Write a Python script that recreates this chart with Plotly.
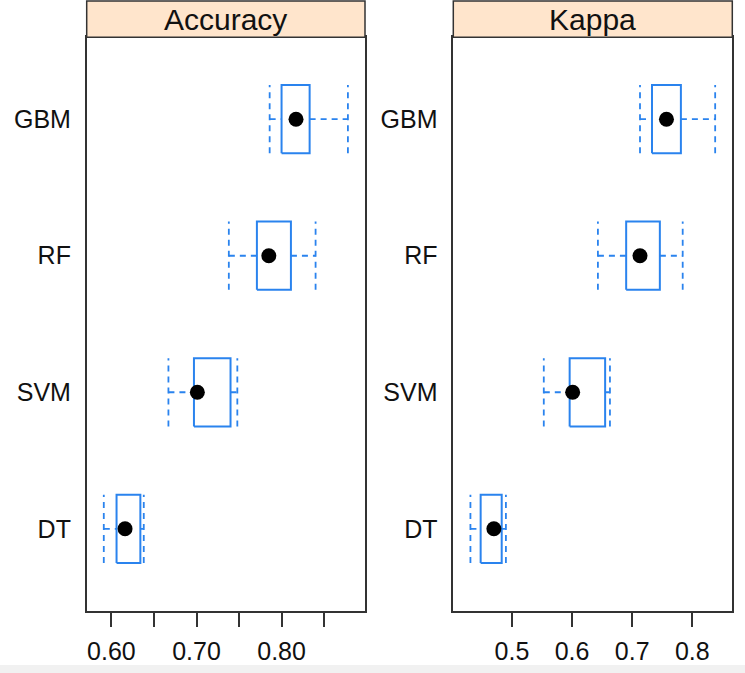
import plotly.graph_objects as go

models = ["DT", "SVM", "RF", "GBM"]

acc_min = [0.591, 0.667, 0.738, 0.786]
acc_q1 = [0.606, 0.697, 0.771, 0.800]
acc_med = [0.616, 0.701, 0.785, 0.817]
acc_q3 = [0.634, 0.740, 0.811, 0.833]
acc_max = [0.638, 0.748, 0.840, 0.878]

kap_min = [0.431, 0.553, 0.643, 0.713]
kap_q1 = [0.448, 0.596, 0.690, 0.733]
kap_med = [0.470, 0.601, 0.713, 0.757]
kap_q3 = [0.483, 0.655, 0.746, 0.781]
kap_max = [0.490, 0.663, 0.784, 0.838]

panels = ["Accuracy", "Kappa"]
acc_ticks = [0.60, 0.65, 0.70, 0.75, 0.80, 0.85]
acc_ticktext = ["0.60", "", "0.70", "", "0.80", ""]
kap_ticks = [0.5, 0.6, 0.7, 0.8]
kap_ticktext = ["0.5", "0.6", "0.7", "0.8"]

BLUE = "#2a83ee"
DARK = "#333333"
FONT = "Liberation Sans, Arial, Helvetica, sans-serif"
W, H = 745, 673

fig = go.Figure()

HALF = 0.25


def add_panel(xa, ya, mn, q1, md, q3, mx):
    for i in range(len(models)):
        c = i + 1
        fig.add_trace(go.Scatter(
            x=[q1[i], q3[i], q3[i], q1[i], q1[i]],
            y=[c - HALF, c - HALF, c + HALF, c + HALF, c - HALF],
            mode="lines", line=dict(color=BLUE, width=2),
            xaxis=xa, yaxis=ya, showlegend=False, hoverinfo="skip"))
        for a, b in ((mn[i], q1[i]), (q3[i], mx[i])):
            fig.add_trace(go.Scatter(
                x=[a, b], y=[c, c], mode="lines",
                line=dict(color=BLUE, width=1.8, dash="6px,5px"),
                xaxis=xa, yaxis=ya, showlegend=False, hoverinfo="skip"))
        for v in (mn[i], mx[i]):
            fig.add_trace(go.Scatter(
                x=[v, v], y=[c - HALF, c + HALF], mode="lines",
                line=dict(color=BLUE, width=1.8, dash="6px,5px"),
                xaxis=xa, yaxis=ya, showlegend=False, hoverinfo="skip"))
    fig.add_trace(go.Scatter(
        x=md, y=[i + 1 for i in range(len(models))], mode="markers",
        marker=dict(color="black", size=15),
        xaxis=xa, yaxis=ya, showlegend=False))


add_panel("x", "y", acc_min, acc_q1, acc_med, acc_q3, acc_max)
add_panel("x2", "y2", kap_min, kap_q1, kap_med, kap_q3, kap_max)


def padded(lo_vals, hi_vals):
    lo, hi = min(lo_vals), max(hi_vals)
    p = 0.07 * (hi - lo)
    return [lo - p, hi + p]


def px(x):
    return x / W


def py(y):
    return (H - y) / H


x1d = [px(86.7), px(365.0)]
x2d = [px(453.3), px(732.3)]
yd = [py(610.7), py(37.3)]

axis_common = dict(
    showline=True, mirror=True, linecolor=DARK, linewidth=1.5,
    showgrid=False, zeroline=False, automargin=False,
    tickfont=dict(family=FONT, size=25, color="#111111"),
)

fig.update_layout(
    width=W, height=H,
    margin=dict(l=0, r=0, t=0, b=0),
    paper_bgcolor="white", plot_bgcolor="white",
    font=dict(family=FONT),
    xaxis=dict(domain=x1d, range=padded(acc_min, acc_max), anchor="y",
               tickvals=acc_ticks, ticktext=acc_ticktext,
               ticks="outside", ticklen=15, tickwidth=1.5, tickcolor=DARK,
               ticklabelstandoff=3, **axis_common),
    yaxis=dict(domain=yd, range=[0.4, 4.6], anchor="x",
               tickvals=[1, 2, 3, 4], ticktext=models, ticks="",
               ticklabelstandoff=9, **axis_common),
    xaxis2=dict(domain=x2d, range=padded(kap_min, kap_max), anchor="y2",
                tickvals=kap_ticks, ticktext=kap_ticktext,
                ticks="outside", ticklen=15, tickwidth=1.5, tickcolor=DARK,
                ticklabelstandoff=3, **axis_common),
    yaxis2=dict(domain=yd, range=[0.4, 4.6], anchor="x2",
                tickvals=[1, 2, 3, 4], ticktext=models, ticks="",
                ticklabelstandoff=9, **axis_common),
)

shapes = []
annotations = []
for dom, name in ((x1d, panels[0]), (x2d, panels[1])):
    shapes.append(dict(type="rect", xref="paper", yref="paper",
                       x0=dom[0], x1=dom[1], y0=yd[1], y1=py(1.0),
                       fillcolor="#FFE5CC", line=dict(color=DARK, width=1.5),
                       layer="above"))
    annotations.append(dict(text=name, xref="paper", yref="paper",
                            x=(dom[0] + dom[1]) / 2, y=py(19.5),
                            xanchor="center", yanchor="middle", showarrow=False,
                            font=dict(family=FONT, size=30, color="#111111")))
shapes.append(dict(type="rect", xref="paper", yref="paper",
                   x0=0, x1=1, y0=0, y1=8.0 / H, fillcolor="#f1f1f1",
                   line=dict(width=0), layer="below"))

fig.update_layout(shapes=shapes, annotations=annotations)

fig.write_html("out.html", config={"displayModeBar": False},
               post_script="document.body.style.margin='0px';")
